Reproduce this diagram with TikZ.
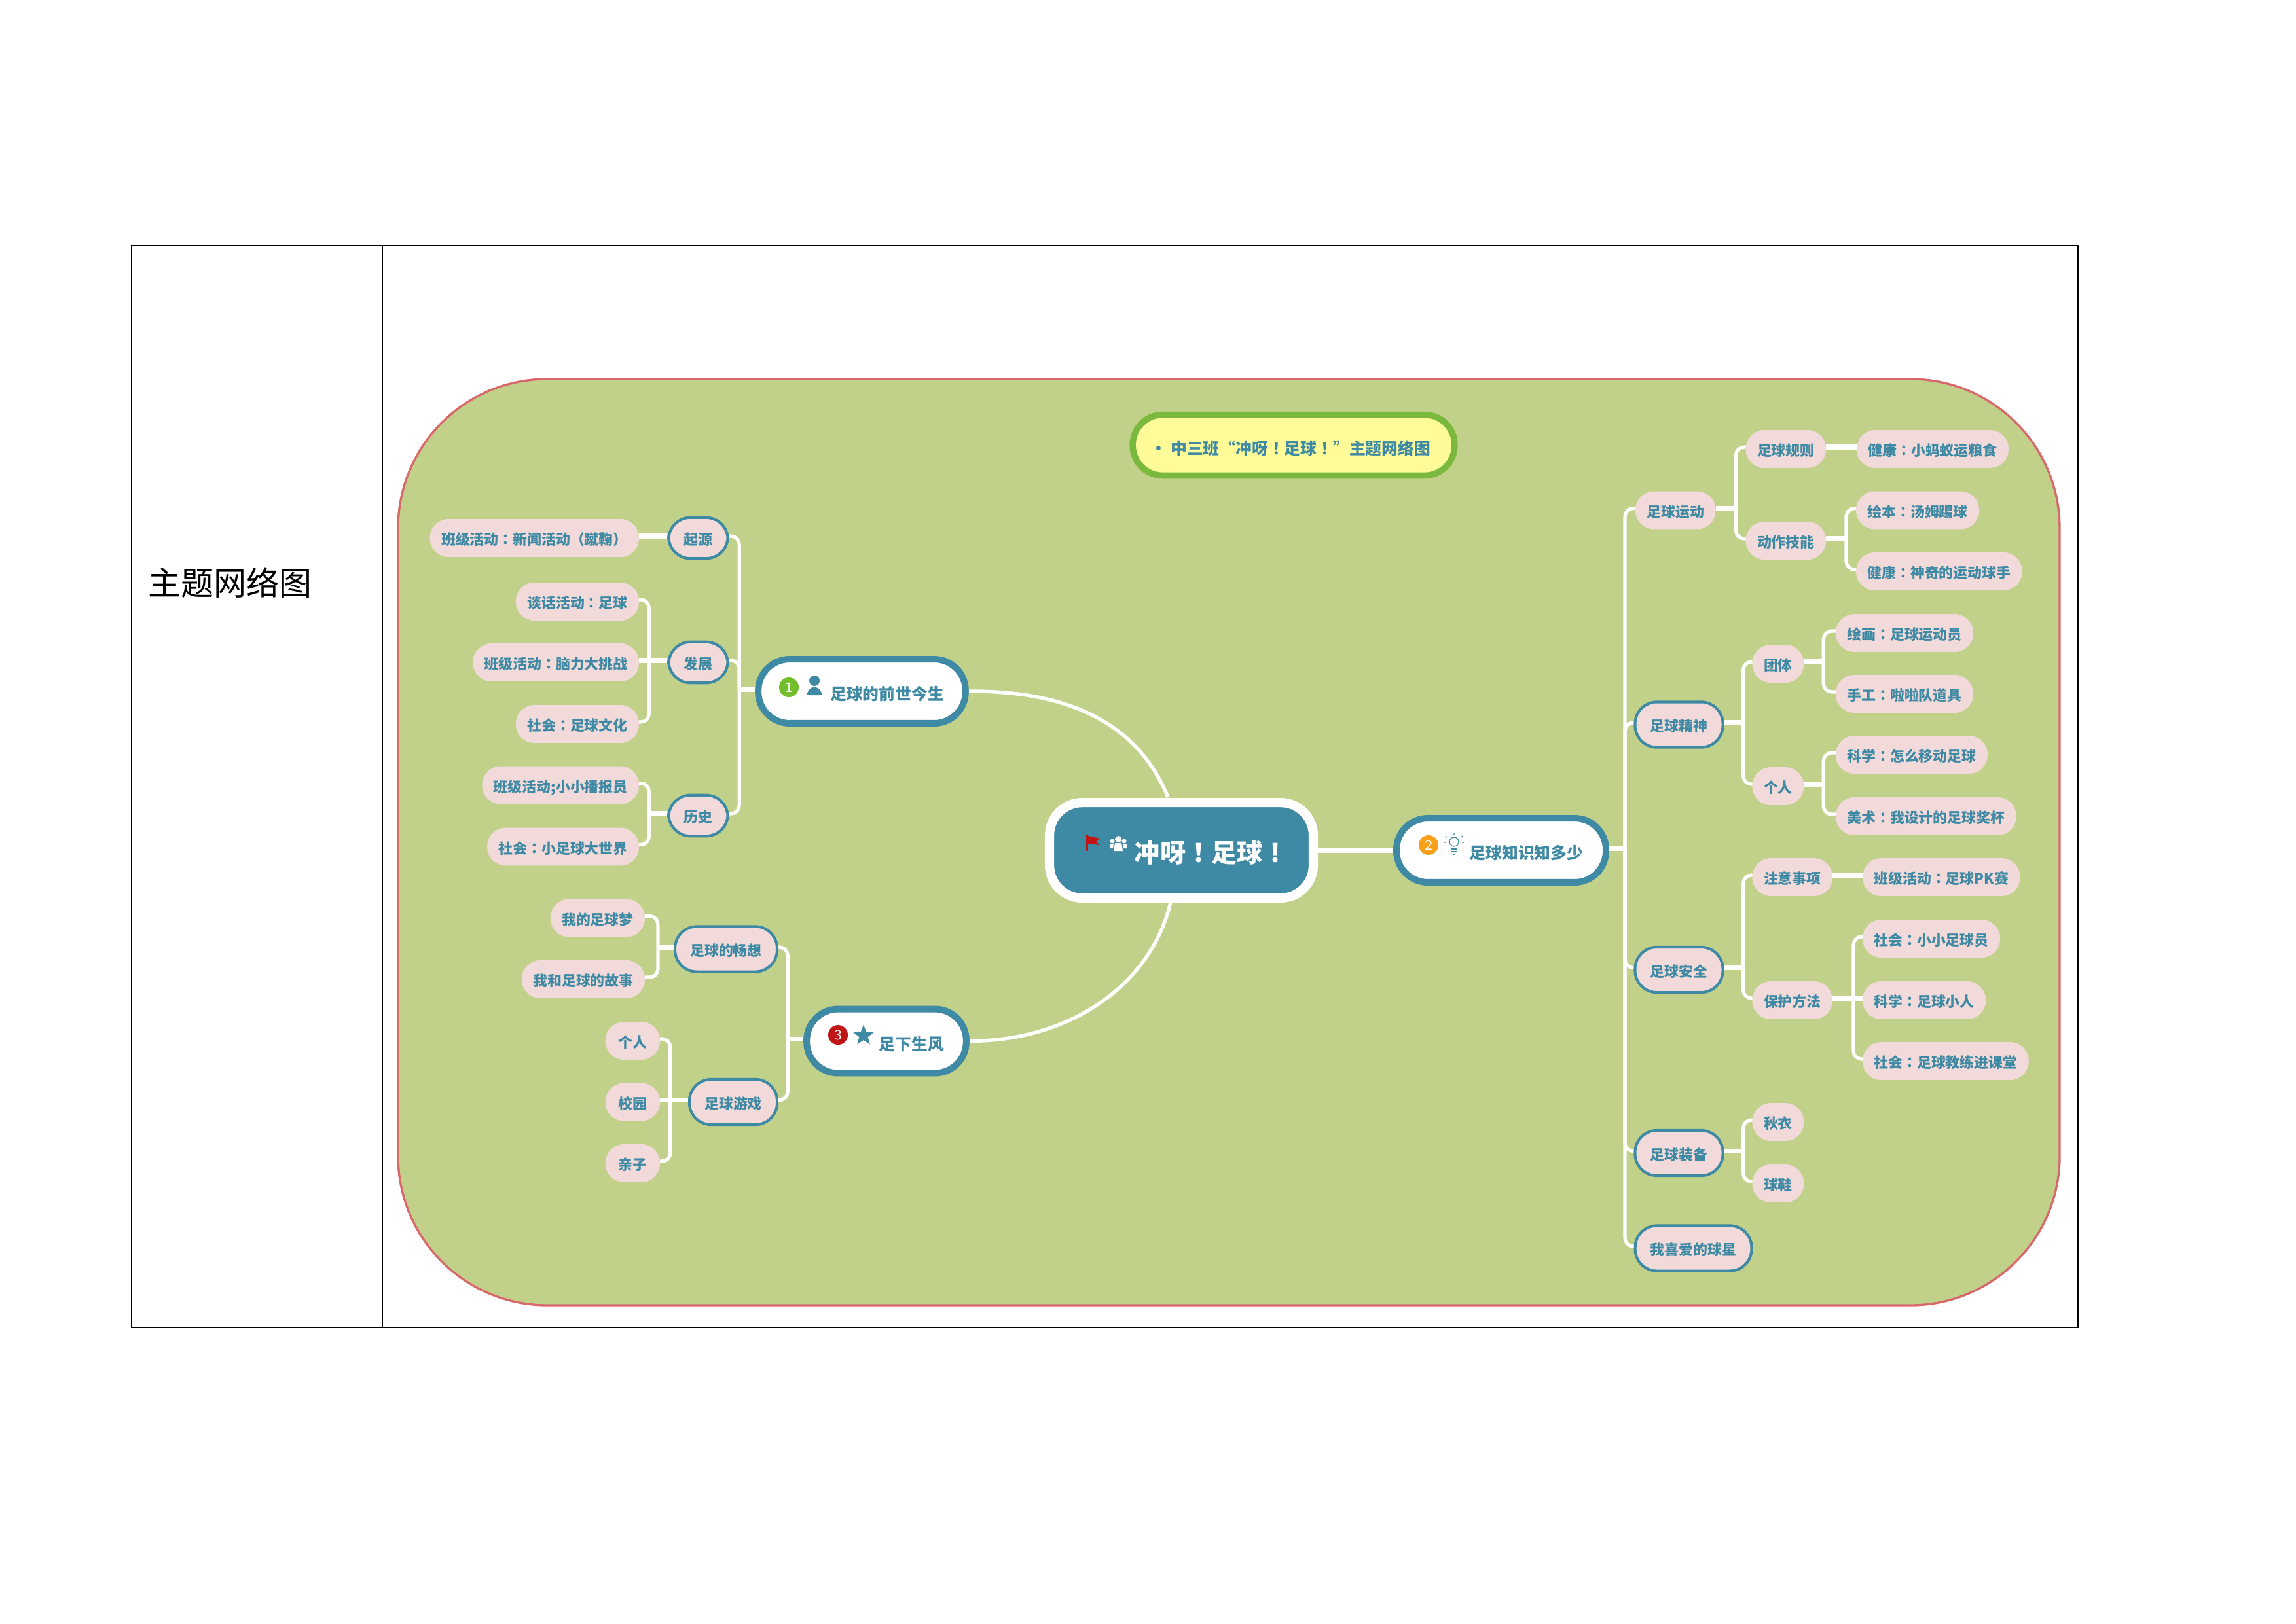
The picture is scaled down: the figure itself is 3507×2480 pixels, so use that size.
\documentclass[tikz,border=0pt]{standalone}
\usepackage{fontspec}
\newfontfamily\cjk{Noto Sans CJK SC}
\newfontfamily\cjkp{Noto Sans CJK TC}
\newcommand{\zcolon}{{\cjkp ：}}
\newcommand{\zbang}{{\cjkp ！}}
\usetikzlibrary{shapes.geometric}
\definecolor{panelc}{HTML}{C2D18A}
\definecolor{panelb}{HTML}{D9686B}
\definecolor{tealc}{HTML}{3E8AA4}
\definecolor{pinkc}{HTML}{F2DADA}
\definecolor{yellowc}{HTML}{FFFB99}
\definecolor{greenc}{HTML}{7AB83E}
\definecolor{badgea}{HTML}{72BE2C}
\definecolor{badgeb}{HTML}{F7A11A}
\definecolor{badgec}{HTML}{C01515}
\tikzset{
  leaf/.style={fill=pinkc,text=tealc,rounded corners=6.8pt,inner xsep=4.2pt,inner ysep=0pt,outer sep=0pt,minimum height=13.9pt,text height=5.9pt,text depth=0.8pt,font=\cjk\bfseries\fontsize{5.25}{6}\selectfont},
  branch/.style={leaf,draw=tealc,line width=1pt,outer sep=0.5pt,inner xsep=5.6pt,minimum height=16.6pt,rounded corners=8pt},
  topic/.style={draw=tealc,fill=white,text=tealc,line width=2.4pt,rounded corners=11.5pt,outer sep=1.2pt,inner sep=0pt,minimum height=23.5pt,text height=7.7pt,text depth=1pt,font=\cjk\bfseries\fontsize{5.95}{7}\selectfont,execute at begin node=\hspace*{18.5pt}},
  hubbox/.style={draw=white,fill=tealc,text=white,line width=3.4pt,rounded corners=12pt,outer sep=1.7pt,inner sep=0pt,minimum width=96.7pt,minimum height=35pt,text height=10.2pt,text depth=1.5pt,font=\cjk\bfseries\fontsize{9.4}{11}\selectfont,execute at begin node=\hspace*{22pt}},
  titlebox/.style={draw=greenc,fill=yellowc,text=tealc,line width=2.3pt,rounded corners=11pt,inner sep=0pt,minimum width=118pt,minimum height=22.3pt,text height=7.9pt,text depth=1pt,font=\cjk\bfseries\fontsize{5.95}{7}\selectfont},
  badge/.style={circle,inner sep=0pt,minimum size=7.2pt,text=white,font=\sffamily\fontsize{5.2}{6}\selectfont},
  link/.style={white,line width=1.25pt,rounded corners=3pt},
  stub/.style={white,line width=1.9pt}
}
\newcommand{\linkup}[3]{\draw[stub] ([yshift=0.72pt]#1) -- ++(#2,0); \draw[link] ([yshift=0.72pt]#1) ++(#2,0) |- ([yshift=0.72pt]#3);}
\newcommand{\linkacross}[2]{\draw[stub] ([yshift=0.72pt]#1) -- ([yshift=0.72pt]#2);}
\begin{document}
\begin{tikzpicture}[x=0.24pt,y=-0.24pt]
\useasboundingbox (0,0) rectangle (3507,2480);
\draw[line width=0.6pt] (201,375) rectangle (3174,2028);
\draw[line width=0.6pt] (584,375) -- (584,2028);
\node[anchor=west,inner sep=0pt,font=\cjk\fontsize{12}{14}\selectfont] (rowlabel) at (226,890) {主题网络图};
\draw[panelb,fill=panelc,line width=0.8pt,rounded corners=54.7pt] (608,579) rectangle (3146,1994);

\node[titlebox] (title) at (1976,680) {• 中三班“冲呀\zbang 足球\zbang ”主题网络图\hspace*{2.2pt}};
\node[hubbox] (hub) at (1804.5,1299) {冲呀\zbang 足球\zbang};
\coordinate (hubtop) at (1784,1218);
\coordinate (hubbottom) at (1788,1378);

\node[topic,minimum width=76pt] (qianshi) at (1316.5,1056) {足球的前世今生};
\node[topic,minimum width=58.5pt] (zuxia) at (1354,1590.5) {足下生风};
\node[topic,minimum width=76.8pt] (zhishi) at (2293,1299) {足球知识知多少};

\node[branch,minimum height=15pt] (qiyuan) at (1066.5,822) {起源};
\node[branch,minimum height=15pt] (fazhan) at (1066.5,1012) {发展};
\node[branch,minimum height=15pt] (lishi) at (1066.5,1246) {历史};
\node[leaf,anchor=east] (xinwen) at (976,822) {班级活动\zcolon 新闻活动{\cjkp （}蹴鞠{\cjkp ）}};
\node[leaf,anchor=east] (tanhua) at (976,919) {谈话活动\zcolon 足球};
\node[leaf,anchor=east] (naoli) at (976,1012) {班级活动\zcolon 脑力大挑战};
\node[leaf,anchor=east] (wenhua) at (976,1106) {社会\zcolon 足球文化};
\node[leaf,anchor=east] (bobao) at (976,1199.5) {班级活动;小小播报员};
\node[leaf,anchor=east] (shijie) at (976,1293.5) {社会\zcolon 小足球大世界};

\node[branch] (changxiang) at (1109,1450) {足球的畅想};
\node[branch] (youxi) at (1120,1683.5) {足球游戏};
\node[leaf,anchor=east] (meng) at (985,1402.5) {我的足球梦};
\node[leaf,anchor=east] (gushi) at (985,1496) {我和足球的故事};
\node[leaf,anchor=east,minimum width=20pt] (geren) at (1008,1590) {个人};
\node[leaf,anchor=east,minimum width=20pt] (xiaoyuan) at (1008,1683.5) {校园};
\node[leaf,anchor=east,minimum width=20pt] (qinzi) at (1008,1777) {亲子};

\node[leaf,anchor=west] (yundong) at (2498,779.5) {足球运动};
\node[leaf,anchor=west] (guize) at (2666.5,686) {足球规则};
\node[leaf,anchor=west] (jineng) at (2666.5,826) {动作技能};
\node[leaf,anchor=west] (xiaomayi) at (2836,686) {健康\zcolon 小蚂蚁运粮食};
\node[leaf,anchor=west] (tangmu) at (2835,779.5) {绘本\zcolon 汤姆踢球};
\node[leaf,anchor=west] (shenqi) at (2835,873) {健康\zcolon 神奇的运动球手};

\node[branch] (jingshen) at (2564.5,1107) {足球精神};
\node[leaf,anchor=west] (tuanti) at (2676.5,1014) {团体};
\node[leaf,anchor=west] (gerenb) at (2676.5,1201) {个人};
\node[leaf,anchor=west] (huihua) at (2804,967) {绘画\zcolon 足球运动员};
\node[leaf,anchor=west] (shougong) at (2804,1060) {手工\zcolon 啦啦队道具};
\node[leaf,anchor=west] (yidong) at (2804,1153) {科学\zcolon 怎么移动足球};
\node[leaf,anchor=west] (jiangbei) at (2804,1247) {美术\zcolon 我设计的足球奖杯};

\node[branch] (anquan) at (2564.5,1481.5) {足球安全};
\node[leaf,anchor=west] (zhuyi) at (2676.5,1340) {注意事项};
\node[leaf,anchor=west] (fangfa) at (2676.5,1528) {保护方法};
\node[leaf,anchor=west] (pk) at (2845,1340) {班级活动\zcolon 足球PK赛};
\node[leaf,anchor=west] (xiaoxiao) at (2845,1434) {社会\zcolon 小小足球员};
\node[leaf,anchor=west] (xiaoren) at (2845,1528) {科学\zcolon 足球小人};
\node[leaf,anchor=west] (jiaolian) at (2845,1621) {社会\zcolon 足球教练进课堂};

\node[branch] (zhuangbei) at (2564.5,1761.5) {足球装备};
\node[leaf,anchor=west] (qiuyi) at (2676.5,1714) {秋衣};
\node[leaf,anchor=west] (qiuxie) at (2676.5,1808) {球鞋};
\node[branch] (qiuxing) at (2586.5,1907) {我喜爱的球星};

\draw[white,line width=1.3pt] (qianshi.east) .. controls (1640,1055) and (1740,1110) .. (hubtop);
\draw[white,line width=1.3pt] (zuxia.east) .. controls (1640,1590) and (1760,1500) .. (hubbottom);
\draw[stub] (hub.east) -- (zhishi.west);

\linkup{qianshi.west}{-24}{qiyuan.east}
\linkup{qianshi.west}{-24}{fazhan.east}
\linkup{qianshi.west}{-24}{lishi.east}
\linkacross{qiyuan.west}{xinwen.east}
\linkup{fazhan.west}{-28}{tanhua.east}
\linkacross{fazhan.west}{naoli.east}
\linkup{fazhan.west}{-28}{wenhua.east}
\linkup{lishi.west}{-28}{bobao.east}
\linkup{lishi.west}{-28}{shijie.east}

\linkup{zuxia.west}{-24}{changxiang.east}
\linkup{zuxia.west}{-24}{youxi.east}
\linkup{changxiang.west}{-24}{meng.east}
\linkup{changxiang.west}{-24}{gushi.east}
\linkup{youxi.west}{-27}{geren.east}
\linkacross{youxi.west}{xiaoyuan.east}
\linkup{youxi.west}{-27}{qinzi.east}

\linkup{zhishi.east}{24}{yundong.west}
\linkup{zhishi.east}{24}{jingshen.west}
\linkup{zhishi.east}{24}{anquan.west}
\linkup{zhishi.east}{24}{zhuangbei.west}
\linkup{zhishi.east}{24}{qiuxing.west}
\linkup{yundong.east}{31}{guize.west}
\linkup{yundong.east}{31}{jineng.west}
\linkacross{guize.east}{xiaomayi.west}
\linkup{jineng.east}{31}{tangmu.west}
\linkup{jineng.east}{31}{shenqi.west}
\linkup{jingshen.east}{29}{tuanti.west}
\linkup{jingshen.east}{29}{gerenb.west}
\linkup{tuanti.east}{30}{huihua.west}
\linkup{tuanti.east}{30}{shougong.west}
\linkup{gerenb.east}{30}{yidong.west}
\linkup{gerenb.east}{30}{jiangbei.west}
\linkup{anquan.east}{29}{zhuyi.west}
\linkup{anquan.east}{29}{fangfa.west}
\linkacross{zhuyi.east}{pk.west}
\linkup{fangfa.east}{32}{xiaoxiao.west}
\linkacross{fangfa.east}{xiaoren.west}
\linkup{fangfa.east}{32}{jiaolian.west}
\linkup{zhuangbei.east}{29}{qiuyi.west}
\linkup{zhuangbei.east}{29}{qiuxie.west}

\node[badge,fill=badgea] (one) at (1205,1050) {1};
\fill[tealc] (1244,1040) circle (8);
\fill[tealc,rounded corners=1pt] (1231,1062) -- (1257,1062) -- (1250,1050) -- (1238,1050) -- cycle;
\node[badge,fill=badgeb] (two) at (2182,1291) {2};
\draw[tealc,line width=0.3pt] (2221,1286) circle (7);
\draw[tealc,line width=0.3pt] (2216,1297) -- (2226,1297) (2217,1301) -- (2225,1301) (2219,1305) -- (2223,1305);
\draw[tealc,line width=0.3pt] (2221,1276) -- (2221,1273) (2210,1279) -- (2208,1277) (2232,1279) -- (2234,1277) (2209,1287) -- (2206,1287) (2233,1287) -- (2236,1287);
\node[badge,fill=badgec] (three) at (1280,1581) {3};
\node[star,star points=5,star point ratio=2.4,fill=tealc,inner sep=0pt,minimum size=8pt] (starmark) at (1319,1582) {};
\fill[badgec] (1659,1276) rectangle (1662,1300);
\fill[badgec] (1662,1277) -- (1680,1281) -- (1674,1286) -- (1680,1291) -- (1662,1289) -- cycle;
\fill[white] (1708,1282) circle (5) (1699,1285) circle (3.5) (1717,1285) circle (3.5);
\fill[white] (1701,1300) -- (1715,1300) -- (1713,1288) -- (1703,1288) -- cycle;
\fill[white] (1696,1296) -- (1700,1296) -- (1701,1289) -- (1696,1290) -- cycle (1716,1296) -- (1721,1296) -- (1721,1290) -- (1715,1289) -- cycle;
\end{tikzpicture}
\end{document}
